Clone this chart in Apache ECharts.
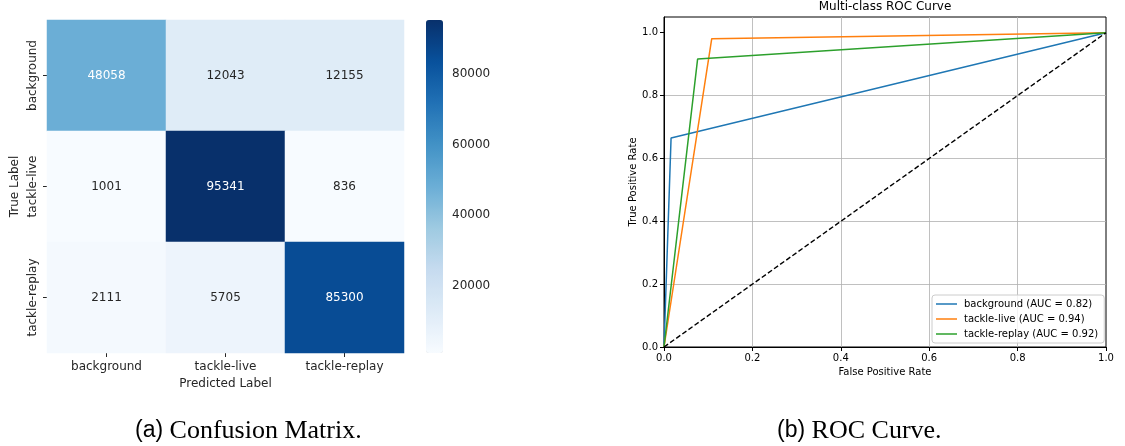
<!DOCTYPE html>
<html>
<head>
<meta charset="utf-8">
<script src="https://cdn.jsdelivr.net/npm/echarts@6/dist/echarts.min.js"></script>
<style>
  html, body { margin: 0; padding: 0; background: #ffffff; }
  #chart { width: 1125px; height: 446px; }
</style>
</head>
<body>
<div id="chart"></div>
<script>
// Class names shared by both panels
const classNames = ['background', 'tackle-live', 'tackle-replay'];

// Confusion matrix: one array per true label, columns = predicted label
const rowBackground = [48058, 12043, 12155];
const rowTackleLive = [1001, 95341, 836];
const rowTackleReplay = [2111, 5705, 85300];

// Colour bar tick labels
const colorbarTicks = [20000, 40000, 60000, 80000];

// ROC curve points per class (false positive rate, true positive rate)
const fprBackground = [0, 0.016, 1];
const tprBackground = [0, 0.665, 1];
const fprTackleLive = [0, 0.108, 1];
const tprTackleLive = [0, 0.981, 1];
const fprTackleReplay = [0, 0.076, 1];
const tprTackleReplay = [0, 0.916, 1];
const aucValues = [0.82, 0.94, 0.92];

// ROC axis ticks
const rateTicks = [0, 0.2, 0.4, 0.6, 0.8, 1.0];

// Chance line
const chanceX = [0, 1];
const chanceY = [0, 1];

const blues = ['#f7fbff', '#deebf7', '#c6dbef', '#9ecae1', '#6baed6',
               '#4292c6', '#2171b5', '#08519c', '#08306b'];
const rocColors = ['#1f77b4', '#ff7f0e', '#2ca02c'];
const font = 'DejaVu Sans';

const matrix = [rowBackground, rowTackleLive, rowTackleReplay];
const allCounts = matrix.flat();
const cMin = Math.min(...allCounts);
const cMax = Math.max(...allCounts);

const heatData = [];
matrix.forEach((row, r) => {
  row.forEach((v, c) => {
    const t = (v - cMin) / (cMax - cMin);
    heatData.push({
      value: [c, r, v],
      label: { color: t > 0.4 ? '#ffffff' : '#262626' }
    });
  });
});

const zip = (xs, ys) => xs.map((x, i) => [x, ys[i]]);
const rocSeries = [
  [fprBackground, tprBackground],
  [fprTackleLive, tprTackleLive],
  [fprTackleReplay, tprTackleReplay]
].map((pair, i) => ({
  name: classNames[i] + ' (AUC = ' + aucValues[i].toFixed(2) + ')',
  type: 'line',
  xAxisIndex: 2,
  yAxisIndex: 2,
  data: zip(pair[0], pair[1]),
  symbol: 'none',
  silent: true,
  animation: false,
  lineStyle: { color: rocColors[i], width: 1.5 },
  itemStyle: { color: rocColors[i] },
  z: 3
}));

const chart = echarts.init(document.getElementById('chart'), null, { renderer: 'canvas' });

const captionRich = {
  s: { fontFamily: 'Liberation Sans', fontSize: 23, fill: '#000000', color: '#000000' },
  r: { fontFamily: 'Liberation Serif', fontSize: 26, fill: '#000000', color: '#000000' }
};

const option = {
  backgroundColor: '#ffffff',
  animation: false,
  textStyle: { fontFamily: font },
  grid: [
    { left: 47, top: 20, width: 357, height: 333 },
    { left: 426, top: 20, width: 17, height: 333 },
    { left: 664, top: 17, width: 442, height: 330,
      show: true, borderColor: '#000000', borderWidth: 1, backgroundColor: 'transparent' }
  ],
  xAxis: [
    {
      gridIndex: 0, type: 'category', data: classNames,
      axisLine: { show: false },
      axisTick: { show: true, alignWithLabel: true, length: 4, lineStyle: { color: '#262626' } },
      axisLabel: { fontSize: 12, color: '#262626', margin: 8, fontFamily: font },
      splitLine: { show: false },
      name: 'Predicted Label', nameLocation: 'middle', nameGap: 24,
      nameTextStyle: { fontSize: 12, color: '#262626', fontFamily: font }
    },
    { gridIndex: 1, type: 'value', show: false },
    {
      gridIndex: 2, type: 'value', min: 0, max: 1, interval: 0.2,
      axisLine: { show: true, lineStyle: { color: '#000000', width: 1 } },
      axisTick: { show: true, length: 4, lineStyle: { color: '#000000' } },
      axisLabel: { fontSize: 10, color: '#000000', margin: 6, fontFamily: font,
                   formatter: v => v.toFixed(1) },
      splitLine: { show: true, showMinLine: false, showMaxLine: false,
                   lineStyle: { color: '#b0b0b0', width: 0.8 } },
      name: 'False Positive Rate', nameLocation: 'middle', nameGap: 19,
      nameTextStyle: { fontSize: 10, color: '#000000', fontFamily: font }
    }
  ],
  yAxis: [
    {
      gridIndex: 0, type: 'category', data: classNames, inverse: true,
      axisLine: { show: false },
      axisTick: { show: true, alignWithLabel: true, length: 4, lineStyle: { color: '#262626' } },
      axisLabel: { fontSize: 12, color: '#262626', margin: 8, rotate: 90, fontFamily: font },
      splitLine: { show: false },
      name: 'True Label', nameLocation: 'middle', nameGap: 26, nameRotate: 90,
      nameTextStyle: { fontSize: 12, color: '#262626', fontFamily: font }
    },
    {
      gridIndex: 1, type: 'value', position: 'right', min: cMin, max: cMax,
      axisLine: { show: false },
      axisTick: { show: true, length: 4, customValues: colorbarTicks, lineStyle: { color: '#262626' } },
      axisLabel: { fontSize: 12, color: '#262626', margin: 9, customValues: colorbarTicks, fontFamily: font,
                   formatter: v => String(Math.round(v)) },
      splitLine: { show: false }
    },
    {
      gridIndex: 2, type: 'value', min: 0, max: 1.05, interval: 0.2,
      axisLine: { show: true, lineStyle: { color: '#000000', width: 1 } },
      axisTick: { show: true, length: 4, customValues: rateTicks, lineStyle: { color: '#000000' } },
      axisLabel: { fontSize: 10, color: '#000000', margin: 6, customValues: rateTicks, fontFamily: font,
                   formatter: v => Number(v).toFixed(1) },
      splitLine: { show: true, showMinLine: false, showMaxLine: false,
                   lineStyle: { color: '#b0b0b0', width: 0.8 } },
      name: 'True Positive Rate', nameLocation: 'middle', nameGap: 25, nameRotate: 90,
      nameTextStyle: { fontSize: 10, color: '#000000', fontFamily: font }
    }
  ],
  visualMap: {
    type: 'continuous',
    seriesIndex: 0,
    dimension: 2,
    min: cMin,
    max: cMax,
    inRange: { color: blues },
    orient: 'vertical',
    left: 426,
    top: 20,
    itemWidth: 17,
    itemHeight: 333,
    padding: 0,
    calculable: false,
    hoverLink: false,
    showLabel: false,
    text: null
  },
  legend: {
    data: rocSeries.map(s => s.name),
    orient: 'vertical',
    left: 932,
    top: 295,
    padding: [4, 6, 4, 4],
    icon: 'rect',
    itemWidth: 21,
    itemHeight: 1.5,
    itemGap: 5,
    selectedMode: false,
    backgroundColor: 'rgba(255,255,255,0.8)',
    borderColor: '#cccccc',
    borderWidth: 1,
    borderRadius: 3,
    textStyle: { fontSize: 10, color: '#000000', fontFamily: font, padding: [0, 0, 0, 2] }
  },
  graphic: [
    {
      type: 'text', x: 885, y: 7, silent: true,
      style: { text: 'Multi-class ROC Curve', font: '12px "DejaVu Sans"', fill: '#000000',
               textAlign: 'center', textVerticalAlign: 'middle', align: 'center', verticalAlign: 'middle' }
    },
    {
      type: 'text', x: 135, y: 431, silent: true,
      style: {
        text: '{s|(a)}{r| Confusion Matrix.}',
        fill: '#000000',
        textAlign: 'left', textVerticalAlign: 'middle', align: 'left', verticalAlign: 'middle',
        rich: captionRich
      }
    },
    {
      type: 'text', x: 777, y: 431, silent: true,
      style: {
        text: '{s|(b)}{r| ROC Curve.}',
        fill: '#000000',
        textAlign: 'left', textVerticalAlign: 'middle', align: 'left', verticalAlign: 'middle',
        rich: captionRich
      }
    }
  ],
  series: [
    {
      type: 'heatmap',
      xAxisIndex: 0,
      yAxisIndex: 0,
      data: heatData,
      silent: true,
      label: { show: true, fontSize: 12, fontFamily: font, formatter: p => String(p.value[2]) },
      itemStyle: { borderWidth: 0 },
      emphasis: { disabled: true }
    },
    ...rocSeries,
    {
      name: 'chance',
      type: 'line',
      xAxisIndex: 2,
      yAxisIndex: 2,
      data: zip(chanceX, chanceY),
      symbol: 'none',
      silent: true,
      lineStyle: { color: '#000000', width: 1.4, type: [5, 2.5] },
      z: 4
    }
  ]
};

chart.setOption(option);
</script>
</body>
</html>
